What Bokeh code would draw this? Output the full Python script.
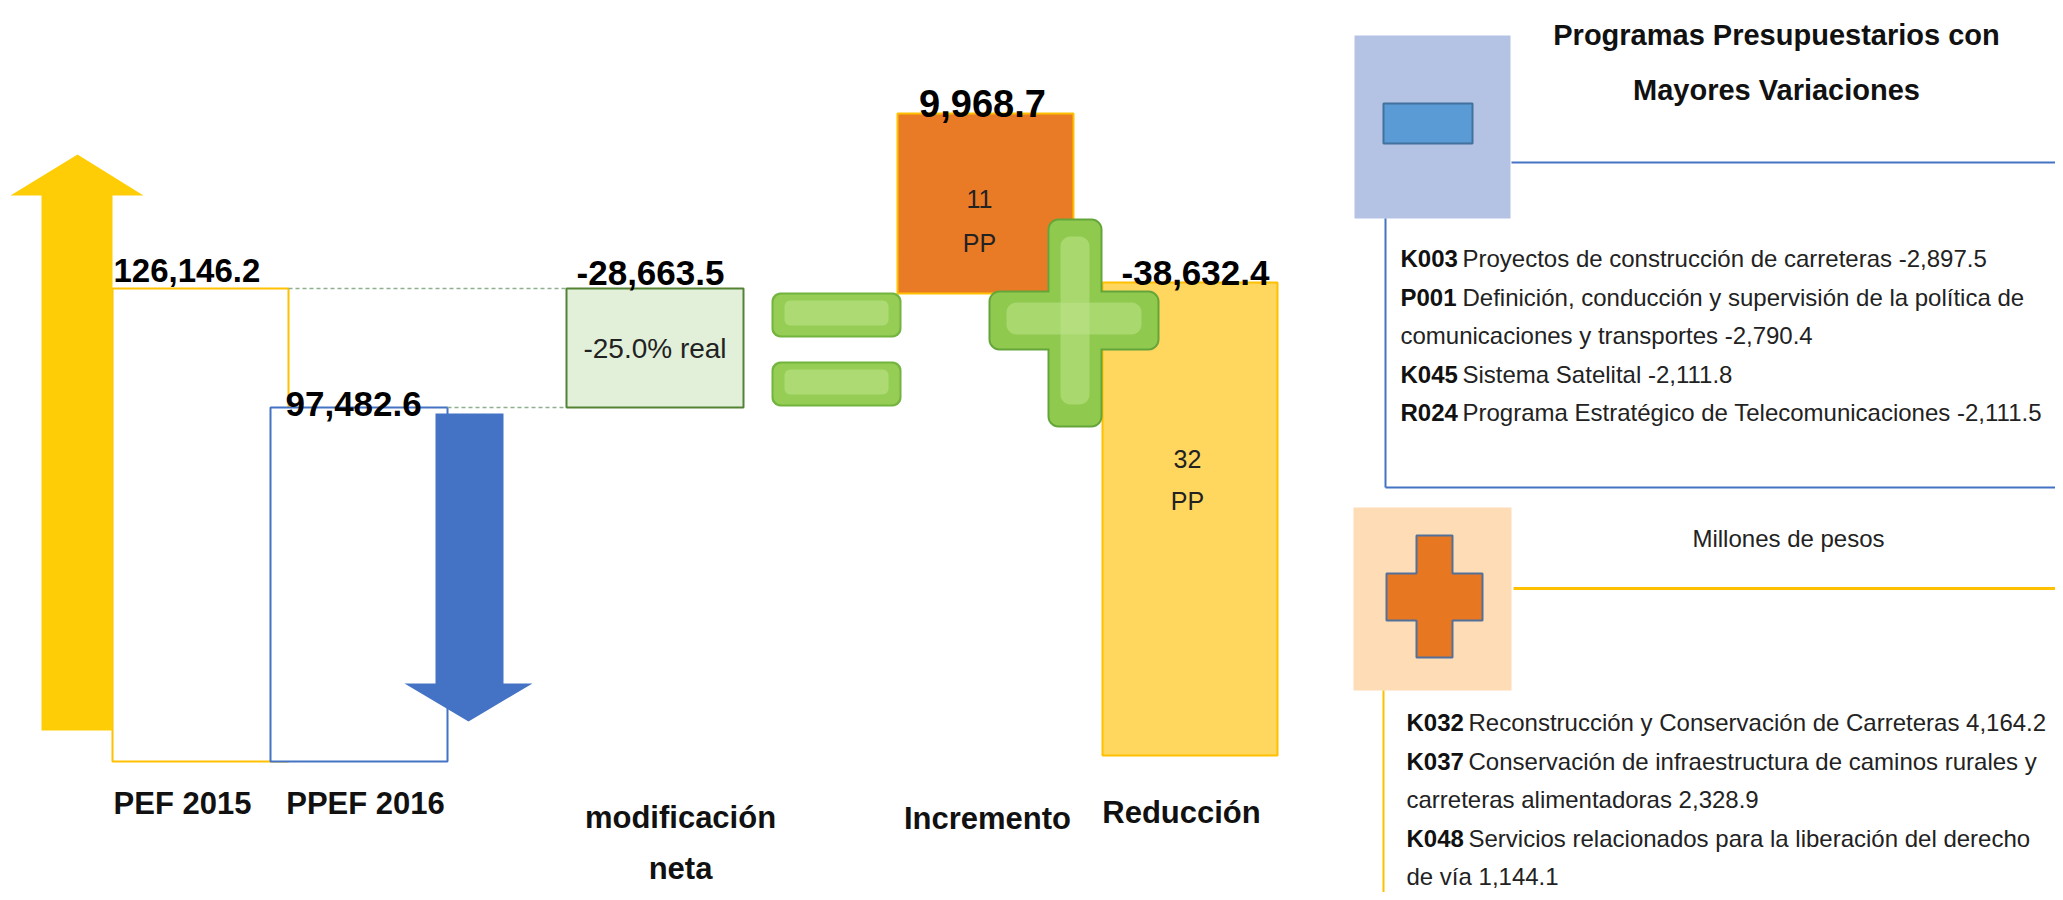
import numpy as np
from bokeh.plotting import figure
from bokeh.models import Range1d
from bokeh.core.properties import value
from bokeh.embed import file_html
from bokeh.resources import INLINE

# ---------------- data ----------------
stage_labels = ["PEF 2015", "PPEF 2016", "modificación", "neta", "Incremento", "Reducción"]
budget_totals = [126146.2, 97482.6]          # PEF 2015, PPEF 2016
net_change = -28663.5
increase_total = 9968.7
reduction_total = -38632.4
pp_counts = [11, 32]                         # programas con incremento / reducción
real_change_pct = -25.0

title_lines = ["Programas Presupuestarios con", "Mayores Variaciones"]
units_label = "Millones de pesos"

neg_codes = ["K003", "P001", "K045", "R024"]
neg_names = ["Proyectos de construcción de carreteras",
             "Definición, conducción y supervisión de la política de\ncomunicaciones y transportes",
             "Sistema Satelital",
             "Programa Estratégico de Telecomunicaciones"]
neg_values = [-2897.5, -2790.4, -2111.8, -2111.5]

pos_codes = ["K032", "K037", "K048"]
pos_names = ["Reconstrucción y Conservación de Carreteras",
             "Conservación de infraestructura de caminos rurales y\ncarreteras alimentadoras",
             "Servicios relacionados para la liberación del derecho\nde vía"]
pos_values = [4164.2, 2328.9, 1144.1]

# ---------------- layout / style ----------------
W, H = 2055, 892
SANS = value("Liberation Sans")
BAR_FLOOR = 12210            # truncated baseline of the total bars

def fmt(v):
    return f"{v:,.1f}"

p = figure(width=W, height=H, x_range=Range1d(0, W), y_range=Range1d(H, 0),
           output_backend="svg", toolbar_location=None, min_border=0)
p.axis.visible = False
p.grid.visible = False
p.outline_line_color = None
p.background_fill_color = "white"
p.border_fill_color = "white"
p.extra_y_ranges = {
    "val": Range1d(-19338, 195517),   # totals scale
    "inc": Range1d(-33174, 16226),    # increase box scale
    "red": Range1d(-49820, 23032),    # reduction box scale
}

def rrect(x0, y0, x1, y1, r, n=8):
    xs, ys = [], []
    corners = [(x1 - r, y0 + r, -90, 0), (x1 - r, y1 - r, 0, 90),
               (x0 + r, y1 - r, 90, 180), (x0 + r, y0 + r, 180, 270)]
    for cx, cy, a0, a1 in corners:
        t = np.radians(np.linspace(a0, a1, n))
        xs.extend(cx + r * np.cos(t))
        ys.extend(cy + r * np.sin(t))
    return xs, ys

# ---------- totals (PEF 2015 / PPEF 2016) ----------
tot_left = [112, 270]
tot_right = [288, 447]
tot_colors = ["#FFC000", "#4472C4"]
for i in range(2):
    p.quad(left=tot_left[i], right=tot_right[i], top=budget_totals[i], bottom=BAR_FLOOR,
           fill_color="white", line_color=tot_colors[i], line_width=2, y_range_name="val")

# decorative arrows
p.patch([41, 41, 10, 77, 143, 112, 112], [730, 195, 195, 154, 195, 195, 730],
        fill_color="#FFCD05", line_color=None)
p.patch([435, 503, 503, 532, 468, 404, 435], [413, 413, 683, 683, 721, 683, 683],
        fill_color="#4472C4", line_color=None)

# dashed connectors
p.segment(x0=[tot_right[0], tot_right[1]], x1=[566, 566], y0=budget_totals, y1=budget_totals,
          line_color="#8FB08F", line_dash="4 3", line_width=1.5, y_range_name="val")

# net change box
p.quad(left=566, right=743, top=budget_totals[0], bottom=budget_totals[0] + net_change,
       fill_color="#E2F0D9", line_color="#548235", line_width=2, y_range_name="val")
p.text(x=[654.5], y=[budget_totals[0] + net_change / 2], text=[f"{real_change_pct:.1f}% real"],
       text_font=SANS, text_font_size="28px", text_align="center", text_baseline="middle",
       text_color="#222222", y_range_name="val")

# increase / reduction boxes
p.quad(left=897, right=1073, top=increase_total, bottom=0, fill_color="#EA7B26",
       line_color="#FFC000", line_width=2, y_range_name="inc")
p.quad(left=1102, right=1277, top=0, bottom=reduction_total, fill_color="#FFD75E",
       line_color="#FFC000", line_width=2, y_range_name="red")

# equals sign
for (y0, y1) in [(292, 337), (361, 406)]:
    xs, ys = rrect(771, y0, 901, y1, 9)
    p.patch(xs, ys, fill_color="#72B43E", line_color=None)
    xs, ys = rrect(773, y0 + 2, 899, y1 - 2, 8)
    p.patch(xs, ys, fill_color="#96CE55", line_color=None)
    xs, ys = rrect(784, y0 + 8, 888, y1 - 12, 6)
    p.patch(xs, ys, fill_color="#BDE286", line_color=None, fill_alpha=0.6)

# plus sign
for (a, fc) in [(0, "#64A53A"), (2, "#8FCA4F")]:
    for (x0, y0, x1, y1) in [(1047, 218, 1102, 427), (988, 290, 1159, 350)]:
        xs, ys = rrect(x0 + a, y0 + a, x1 - a, y1 - a, 11 - a)
        p.patch(xs, ys, fill_color=fc, line_color=None)
for (x0, y0, x1, y1) in [(1060, 236, 1089, 404), (1006, 302, 1141, 334)]:
    xs, ys = rrect(x0, y0, x1, y1, 10)
    p.patch(xs, ys, fill_color="#BFE38A", line_color=None, fill_alpha=0.55)

# value labels
p.text(x=[113], y=[budget_totals[0]], text=[fmt(budget_totals[0])], text_font=SANS,
       text_font_size="33px", text_font_style="bold", text_align="left",
       text_baseline="alphabetic", y_offset=-18, y_range_name="val")
p.text(x=[285], y=[budget_totals[1]], text=[fmt(budget_totals[1])], text_font=SANS,
       text_font_size="35px", text_font_style="bold", text_align="left",
       text_baseline="alphabetic", y_offset=-4, y_range_name="val")
p.text(x=[650], y=[budget_totals[0]], text=[fmt(net_change)], text_font=SANS,
       text_font_size="35px", text_font_style="bold", text_align="center",
       text_baseline="alphabetic", y_offset=-16, y_range_name="val")
p.text(x=[982], y=[increase_total], text=[fmt(increase_total)], text_font=SANS,
       text_font_size="38px", text_font_style="bold", text_align="center",
       text_baseline="alphabetic", y_offset=-10, y_range_name="inc")
p.text(x=[1195], y=[0], text=[fmt(reduction_total)], text_font=SANS,
       text_font_size="35px", text_font_style="bold", text_align="center",
       text_baseline="alphabetic", y_offset=-10, y_range_name="red")

# PP counts inside boxes
p.text(x=[979, 979], y=[198, 242], text=[str(pp_counts[0]), "PP"], text_font=SANS,
       text_font_size="25px", text_align="center", text_baseline="alphabetic", text_color="#222222")
p.text(x=[1187, 1187], y=[458, 500], text=[str(pp_counts[1]), "PP"], text_font=SANS,
       text_font_size="25px", text_align="center", text_baseline="alphabetic", text_color="#222222")

# category labels
p.text(x=[182, 365, 680, 680, 987, 1181], y=[803, 803, 817, 868, 818, 812], text=stage_labels,
       text_font=SANS, text_font_size="31px", text_font_style="bold", text_align="center",
       text_baseline="alphabetic", text_color="#111111")

# ---------------- right panel ----------------
p.quad(left=1354, right=1510, top=35, bottom=218, fill_color="#B4C2E4", line_color=None)
p.quad(left=1383, right=1472, top=103, bottom=143, fill_color="#5B9BD5", line_color="#41719C", line_width=2)
p.segment(x0=[1511, 1385, 1385], x1=[2063, 1385, 2063], y0=[162, 218, 487], y1=[162, 487, 487],
          line_color="#4472C4", line_width=2)

p.quad(left=1353, right=1511, top=507, bottom=690, fill_color="#FDDCB6", line_color=None)
p.patch([1416, 1452, 1452, 1482, 1482, 1452, 1452, 1416, 1416, 1386, 1386, 1416],
        [535, 535, 573, 573, 620, 620, 657, 657, 620, 620, 573, 573],
        fill_color="#E87722", line_color="#52709A", line_width=2)
p.segment(x0=[1513], x1=[2063], y0=[588], y1=[588], line_color="#FFC000", line_width=3)
p.segment(x0=[1383], x1=[1383], y0=[690], y1=[900], line_color="#FFC000", line_width=2)

p.text(x=[1776, 1776], y=[34, 89], text=title_lines, text_font=SANS, text_font_size="29px",
       text_font_style="bold", text_align="center", text_baseline="alphabetic", text_color="#111111")
p.text(x=[1788], y=[538], text=[units_label], text_font=SANS, text_font_size="24px",
       text_align="center", text_baseline="alphabetic", text_color="#222222")

def panel_items(codes, names, vals, x_code, x_rest, y_start, step):
    bold, reg = ([], [], []), ([], [], [])
    row = 0
    for code, name, v in zip(codes, names, vals):
        parts = name.split("\n")
        parts[-1] = parts[-1] + " " + fmt(v)
        y = y_start + row * step
        bold[0].append(x_code); bold[1].append(y); bold[2].append(code)
        reg[0].append(x_rest); reg[1].append(y); reg[2].append(parts[0])
        row += 1
        for part in parts[1:]:
            y = y_start + row * step
            reg[0].append(x_code); reg[1].append(y); reg[2].append(part)
            row += 1
    return bold, reg

for (codes, names, vals, xc, xr, ys) in [(neg_codes, neg_names, neg_values, 1400, 1462, 258),
                                          (pos_codes, pos_names, pos_values, 1406, 1468, 722)]:
    b, r = panel_items(codes, names, vals, xc, xr, ys, 38.6)
    p.text(x=b[0], y=b[1], text=b[2], text_font=SANS, text_font_size="24px", text_font_style="bold",
           text_align="left", text_baseline="alphabetic", text_color="#111111")
    p.text(x=r[0], y=r[1], text=r[2], text_font=SANS, text_font_size="24px",
           text_align="left", text_baseline="alphabetic", text_color="#222222")

open("out.html", "w").write(file_html(p, INLINE))
